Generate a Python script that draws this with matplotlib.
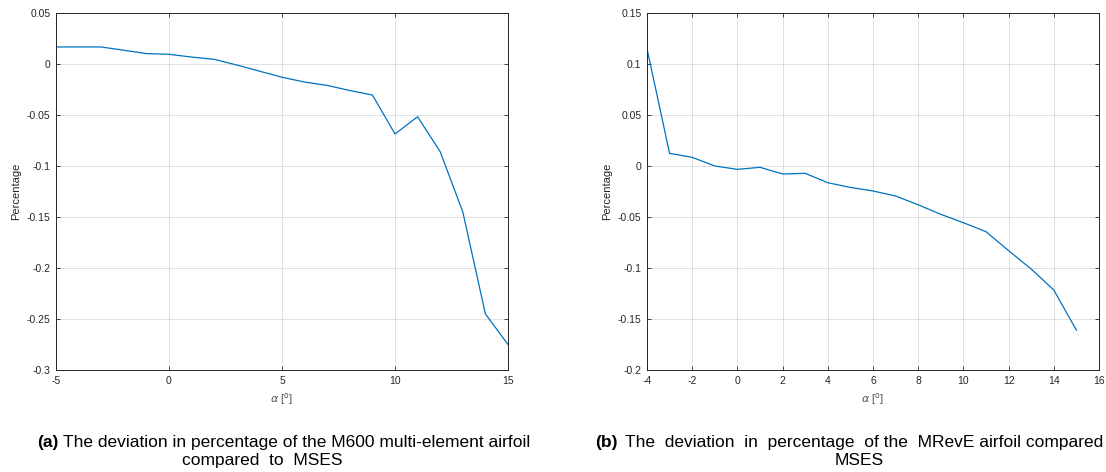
import matplotlib.pyplot as plt
import numpy as np

# ---------------------------
# Data
# ---------------------------
alpha_a = list(range(-5, 16))
dev_a = [0.0167, 0.0167, 0.0167, 0.0135, 0.0102, 0.0095, 0.0068, 0.0046, -0.0010,
         -0.0070, -0.0130, -0.0177, -0.0210, -0.0260, -0.0304, -0.0686, -0.0517,
         -0.0860, -0.1450, -0.2450, -0.2750]

alpha_b = list(range(-4, 16))
dev_b = [0.1150, 0.0124, 0.0085, 0.0000, -0.0033, -0.0013, -0.0078, -0.0072,
         -0.0164, -0.0210, -0.0245, -0.0294, -0.0380, -0.0474, -0.0556, -0.0644,
         -0.0830, -0.1010, -0.1216, -0.1610]

xticks_a = [-5, 0, 5, 10, 15]
yticks_a = [0.05, 0, -0.05, -0.1, -0.15, -0.2, -0.25, -0.3]
xticks_b = [-4, -2, 0, 2, 4, 6, 8, 10, 12, 14, 16]
yticks_b = [0.15, 0.1, 0.05, 0, -0.05, -0.1, -0.15, -0.2]

# double spaces mimic the stretched (justified) spacing of the original captions
caption_a = ["(a)", "The deviation in percentage of the M600 multi-element airfoil", "compared  to  MSES"]
caption_b = ["(b)", "The  deviation  in  percentage  of the  MRevE airfoil compared", "MSES"]

LINE_COLOR = "#0072BD"
AX_COLOR = "#262626"
plt.rcParams["font.family"] = ["Liberation Sans", "DejaVu Sans"]

W, H = 1106, 472
fig = plt.figure(figsize=(W / 100, H / 100), dpi=100)


def make_axes(left_px, xs, ys, xticks, yticks):
    ax = fig.add_axes([left_px / W, (H - 370) / H, 452 / W, 357 / H])
    ax.plot(xs, ys, color=LINE_COLOR, lw=0.9)
    ax.set_xlim(xticks[0], xticks[-1])
    ax.set_ylim(min(yticks), max(yticks))
    ax.set_xticks(xticks)
    ax.set_xticklabels([f"{t:g}" for t in xticks])
    ax.set_yticks(yticks)
    ax.set_yticklabels([f"{t:g}" for t in yticks])
    ax.grid(True, color="#000000", alpha=0.14, lw=0.6)
    ax.tick_params(direction="in", top=True, right=True, length=3, width=0.6,
                   colors=AX_COLOR, labelsize=7.5, pad=4)
    for s in ax.spines.values():
        s.set_color(AX_COLOR)
        s.set_linewidth(0.7)
    ax.set_xlabel(r"$\alpha$ [$^{\mathrm{o}}$]", fontsize=8, color="#555555", labelpad=4)
    ax.set_ylabel("Percentage", fontsize=8, color=AX_COLOR, labelpad=4)
    return ax


ax1 = make_axes(56, alpha_a, dev_a, xticks_a, yticks_a)
ax2 = make_axes(647, alpha_b, dev_b, xticks_b, yticks_b)

r = fig.canvas.get_renderer()
CAP_SIZE = 12.5
SPACE_W = 0.278 * CAP_SIZE * 100 / 72


def caption(x_px, line2_x_px, parts, gap_extra):
    tag, line1, line2 = parts
    t = fig.text(x_px / W, 1 - 447 / H, tag, ha="left", va="baseline",
                 fontsize=CAP_SIZE, weight="bold")
    w = t.get_window_extent(r).width
    fig.text((x_px + w + SPACE_W + gap_extra) / W, 1 - 447 / H, line1,
             ha="left", va="baseline", fontsize=CAP_SIZE)
    fig.text(line2_x_px / W, 1 - 465 / H, line2, ha="left", va="baseline",
             fontsize=CAP_SIZE)


caption(37, 182, caption_a, 0.0)
caption(595, 835, caption_b, 3.0)

fig.savefig("out.png", dpi=100)
